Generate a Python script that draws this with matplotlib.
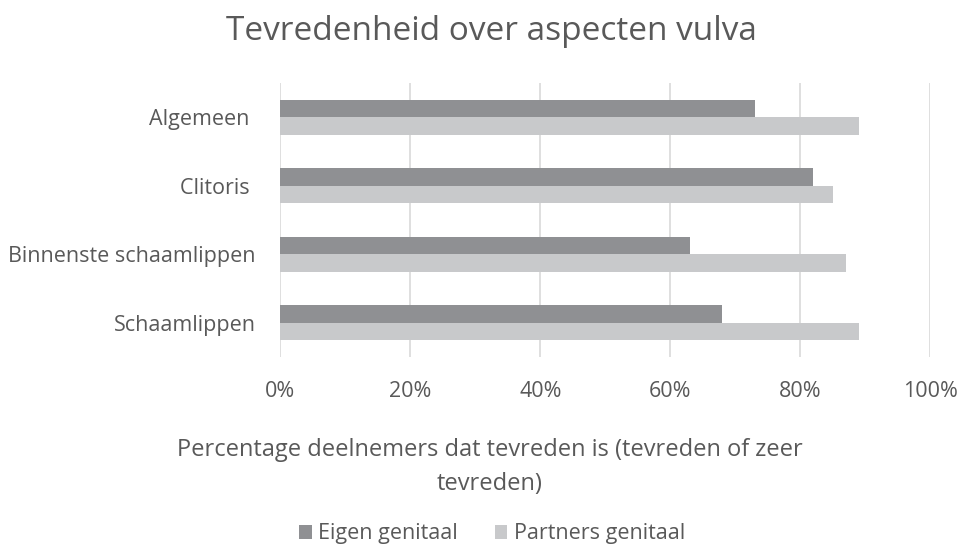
import matplotlib
matplotlib.use("Agg")
import matplotlib.pyplot as plt
import numpy as np

categories = ["Algemeen ", "Clitoris ", "Binnenste schaamlippen", "Schaamlippen"]
eigen = [73, 82, 63, 68]
partners = [89, 85, 87, 89]
series_names = ["Eigen genitaal", "Partners genitaal"]
xticks = [0, 20, 40, 60, 80, 100]
xtick_labels = ["0%", "20%", "40%", "60%", "80%", "100%"]

plt.rcParams['font.family'] = ['Open Sans', 'DejaVu Sans']
txt = "#595959"
c_dark = "#8f9093"
c_light = "#c8c9cb"

fig = plt.figure(figsize=(9.62, 5.5), dpi=100)
ax = fig.add_axes([280.5/962, 1-357/550, (930-280.5)/962, (357-83)/550])

n = len(categories)
y = np.arange(n)
h = 0.259
ax.barh(y - h/2, eigen, height=h, color=c_dark, label=series_names[0], zorder=3)
ax.barh(y + h/2, partners, height=h, color=c_light, label=series_names[1], zorder=3)
ax.set_ylim(n - 0.5, -0.5)
ax.set_xlim(0, 100)
ax.set_yticks(y)
ax.set_yticklabels(categories, fontsize=15.5, color=txt)
ax.set_xticks(xticks)
ax.set_xticklabels(xtick_labels, fontsize=15.5, color=txt)
ax.tick_params(axis='both', length=0)
ax.tick_params(axis='y', pad=18)
ax.tick_params(axis='x', pad=17)
ax.grid(axis='x', color="#d9d9d9", linewidth=1.2, zorder=0)
for s in ax.spines.values():
    s.set_visible(False)

fig.text(491/962, 1-31/550, "Tevredenheid over aspecten vulva", ha='center', va='center',
         fontsize=24, color=txt)
fig.text(490/962, 1-467/550, "Percentage deelnemers dat tevreden is (tevreden of zeer\ntevreden)",
         ha='center', va='center', fontsize=17, color=txt, linespacing=1.55)

leg = fig.legend(loc='center', bbox_to_anchor=(492/962, 1-534/550), ncol=2, frameon=False,
                 fontsize=15.5, handlelength=0.6, handleheight=0.6, handletextpad=0.3,
                 columnspacing=1.7)
for t in leg.get_texts():
    t.set_color(txt)

fig.savefig("out.png", dpi=100)
